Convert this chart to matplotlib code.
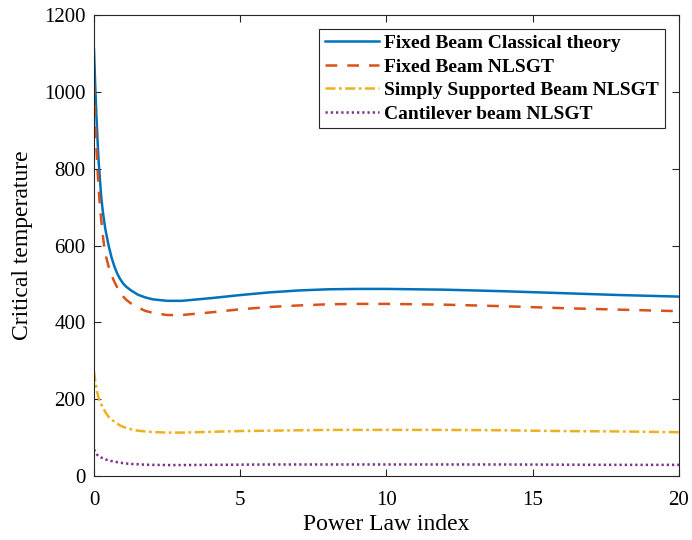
import matplotlib
matplotlib.use("Agg")
import matplotlib.pyplot as plt

# Power law index values
powerIndex = [0, 0.05, 0.1, 0.15, 0.2, 0.25, 0.3, 0.35, 0.4, 0.5, 0.6, 0.7, 0.8, 0.9,
              1.0, 1.1, 1.25, 1.5, 1.75, 2.0, 2.5,
              3, 4, 5, 6, 7, 8, 9, 10, 12, 14, 16, 18, 20]

# Critical temperature for each case
fixedClassical = [1110, 1000, 910, 830, 775, 725, 690, 662, 638, 600, 569, 545, 526, 512,
                  501, 493, 484, 472, 465, 460, 456,
                  456, 463, 471, 478, 483, 486, 487, 487, 485, 481, 476, 471, 467]
fixedNLSGT = [1023, 910, 830, 760, 705, 665, 628, 597, 575, 545, 523, 505, 490, 477,
              467, 459, 450, 439, 430, 425, 419,
              419, 426, 434, 440, 444, 447, 448, 448, 446, 442, 437, 433, 429]
simplyNLSGT = [272, 243, 222, 206, 194, 186, 179, 172, 165, 154, 147, 141, 136, 131,
               128, 125, 122, 118, 116, 114.5, 113,
               113, 115, 117, 118, 119, 120, 120, 120, 120, 119, 117, 116, 114]
cantileverNLSGT = [69, 62, 56, 52.5, 50, 48, 46.5, 45, 43, 41, 39, 37.5, 36, 34.5,
                   33.5, 32.5, 31.5, 30.5, 29.5, 29, 28.5,
                   28.5, 29, 29.5, 30, 30, 30, 30, 30, 30, 30, 29.5, 29, 29]

labels = ["Fixed Beam Classical theory", "Fixed Beam NLSGT",
          "Simply Supported Beam NLSGT", "Cantilever beam NLSGT"]

plt.rcParams["font.family"] = ["Liberation Serif", "DejaVu Serif"]

fig = plt.figure(figsize=(6.92, 5.40), dpi=100)
ax = fig.add_axes([0.1358, 0.1185, 0.9812 - 0.1358, 0.9722 - 0.1185])

lw = 1.8
ax.plot(powerIndex, fixedClassical, color="#0072BD", lw=lw, label=labels[0])
ax.plot(powerIndex, fixedNLSGT, color="#D95319", lw=lw, dashes=(4.7, 4), label=labels[1])
ax.plot(powerIndex, simplyNLSGT, color="#EDB120", lw=lw, dashes=(4, 1.4, 1.1, 1.4), label=labels[2])
ax.plot(powerIndex, cantileverNLSGT, color="#7E2F8E", lw=lw, dashes=(0.9, 1.2), label=labels[3])

ax.set_xlim(0, 20)
ax.set_ylim(0, 1200)
ax.set_xticks([0, 5, 10, 15, 20])
ax.set_yticks(range(0, 1201, 200))
ax.tick_params(direction="in", length=5, width=0.8, labelsize=15, top=True, right=True,
               colors="#262626", labelcolor="black")
ax.tick_params(axis="x", pad=11)
ax.tick_params(axis="y", pad=6)
for spine in ax.spines.values():
    spine.set_color("#262626")
    spine.set_linewidth(0.8)

ax.set_xlabel("Power Law index", fontsize=17, labelpad=3)
ax.set_ylabel("Critical temperature", fontsize=17, labelpad=8)

leg = ax.legend(loc="upper right", bbox_to_anchor=(0.976, 0.97),
                prop={"weight": "bold", "size": 14}, handlelength=2.75, handletextpad=0.3,
                borderpad=0.3, labelspacing=0.3, fancybox=False, framealpha=1,
                edgecolor="#262626", borderaxespad=0)
leg.get_frame().set_linewidth(0.8)

fig.savefig("out.png", dpi=100)
